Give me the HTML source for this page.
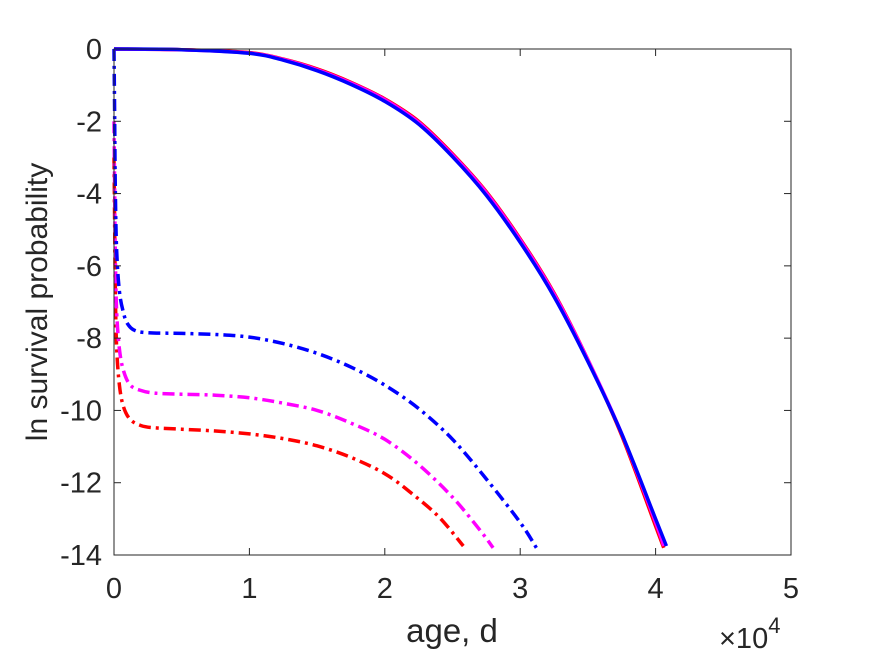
<!DOCTYPE html>
<html><head><meta charset="utf-8"><style>
body{margin:0;background:#fff;}
svg text{font-family:"Liberation Sans",sans-serif;fill:#262626;}
</style></head><body>
<svg id="chart" width="875" height="656" xmlns="http://www.w3.org/2000/svg">
<rect x="0" y="0" width="875" height="656" fill="#fff"/>
<g id="plot"></g>
<g id="axes"></g>
</svg>
<script>
const xTicks=[0,1,2,3,4,5];
const yTicks=[0,-2,-4,-6,-8,-10,-12,-14];
const solidX=[0,0.5,1,1.25,1.5,1.75,2,2.25,2.5,2.75,3,3.25,3.5,3.75,4,4.06];
const solidRed=[0,-0.02,-0.1,-0.28,-0.55,-0.92,-1.38,-2.0,-2.9,-3.95,-5.25,-6.75,-8.6,-10.7,-13.2,-13.8];
const solidMagenta=[0,-0.02,-0.11,-0.29,-0.57,-0.94,-1.4,-2.03,-2.93,-3.98,-5.28,-6.78,-8.6,-10.65,-13.1,-13.75];
const solidBlueX=[0,0.5,1,1.25,1.5,1.75,2,2.25,2.5,2.75,3,3.25,3.5,3.75,4,4.08];
const solidBlue=[0,-0.02,-0.12,-0.31,-0.6,-0.98,-1.45,-2.08,-2.98,-4.05,-5.35,-6.85,-8.65,-10.65,-13.0,-13.75];
const blueDX=[0,0.005,0.01,0.02,0.04,0.07,0.1,0.15,0.25,0.5,0.75,1,1.25,1.5,1.75,2,2.25,2.5,2.75,3,3.12];
const blueDY=[0,-2,-4,-5.6,-6.7,-7.3,-7.6,-7.78,-7.85,-7.87,-7.9,-7.97,-8.15,-8.42,-8.8,-9.3,-9.95,-10.8,-11.9,-13.1,-13.8];
const magDX=[0,0.005,0.01,0.02,0.04,0.07,0.12,0.2,0.3,0.5,0.75,1,1.25,1.5,1.75,2,2.25,2.5,2.7,2.8];
const magDY=[-2,-4,-5.8,-7.3,-8.3,-8.9,-9.3,-9.45,-9.52,-9.55,-9.58,-9.65,-9.8,-10.0,-10.35,-10.8,-11.5,-12.4,-13.3,-13.8];
const redDX=[0,0.005,0.01,0.02,0.04,0.07,0.12,0.2,0.3,0.5,0.75,1,1.25,1.5,1.75,2,2.2,2.4,2.58];
const redDY=[-3,-5,-6.8,-8.3,-9.3,-9.9,-10.25,-10.42,-10.48,-10.52,-10.57,-10.65,-10.78,-10.98,-11.3,-11.75,-12.3,-12.95,-13.75];

const L=114,R=791,T=49,B=555;
const sx=v=>L+(v/5)*(R-L);
const sy=v=>T+(-v/14)*(B-T);
const NS="http://www.w3.org/2000/svg";
const plot=document.getElementById('plot'),axes=document.getElementById('axes');
function mk(t,a,p){const e=document.createElementNS(NS,t);for(const k in a)e.setAttribute(k,a[k]);p.appendChild(e);return e;}
function smooth(pts){
  let d='M'+pts[0][0].toFixed(1)+','+pts[0][1].toFixed(1);
  for(let i=0;i<pts.length-1;i++){
    const p0=pts[Math.max(0,i-1)],p1=pts[i],p2=pts[i+1],p3=pts[Math.min(pts.length-1,i+2)];
    const c1=[p1[0]+(p2[0]-p0[0])/6,p1[1]+(p2[1]-p0[1])/6];
    const c2=[p2[0]-(p3[0]-p1[0])/6,p2[1]-(p3[1]-p1[1])/6];
    d+='C'+c1[0].toFixed(1)+','+c1[1].toFixed(1)+' '+c2[0].toFixed(1)+','+c2[1].toFixed(1)+' '+p2[0].toFixed(1)+','+p2[1].toFixed(1);
  }
  return d;
}
function line(xs,ys,color,dash,name){
  const pts=xs.map((x,i)=>[sx(x),sy(ys[i])]);
  const p=mk('path',{d:smooth(pts),fill:'none',stroke:color,'stroke-width':3.5,'stroke-dasharray':dash||'none','stroke-linejoin':'round'},plot);
  
  
}
line(redDX,redDY,'#ff0000','12,5,3,5','red-dashdot-line');
line(magDX,magDY,'#ff00ff','12,5,3,5','magenta-dashdot-line');
line(blueDX,blueDY,'#0000ff','12,5,3,5','blue-dashdot-line');
line(solidX,solidRed,'#ff0000','','red-solid-line');
line(solidX,solidMagenta,'#ff00ff','','magenta-solid-line');
line(solidBlueX,solidBlue,'#0000ff','','blue-solid-line');
const box=mk('rect',{x:L,y:T,width:R-L,height:B-T,fill:'none',stroke:'#262626','stroke-width':1},axes);


xTicks.forEach(v=>{
  const x=sx(v);
  mk('line',{x1:x,y1:B,x2:x,y2:B-7,stroke:'#262626'},axes);
  mk('line',{x1:x,y1:T,x2:x,y2:T+7,stroke:'#262626'},axes);
  const t=mk('text',{x:x,y:B+43,'text-anchor':'middle','font-size':29},axes);
  t.textContent=v;
  
  
});
yTicks.forEach(v=>{
  const y=sy(v);
  mk('line',{x1:L,y1:y,x2:L+7,y2:y,stroke:'#262626'},axes);
  mk('line',{x1:R,y1:y,x2:R-7,y2:y,stroke:'#262626'},axes);
  const t=mk('text',{x:L-12,y:y+10,'text-anchor':'end','font-size':29},axes);
  t.textContent=v===0?'0':'-'+Math.abs(v);
  
  
});
const xl=mk('text',{x:452,y:642,'text-anchor':'middle','font-size':33},axes);
xl.textContent='age, d';


const ex=mk('text',{x:719,y:648,'font-size':29},axes);
ex.innerHTML='×10<tspan font-size="22" dy="-15">4</tspan>';


const yl=mk('text',{x:0,y:0,'text-anchor':'middle','font-size':30,transform:'translate(47,302) rotate(-90)'},axes);
yl.textContent='ln survival probability';


</script>
</body></html>
